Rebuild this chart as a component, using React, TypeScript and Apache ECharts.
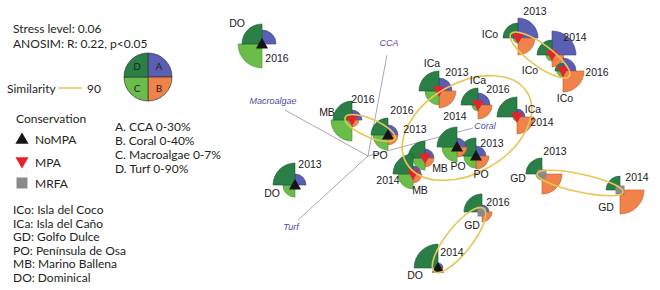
import { useEffect, useRef } from 'react';
import * as echarts from 'echarts';

// ---- data (nMDS coordinates, cover %) ----
const sites = ['DO', 'DO', 'MB', 'PO', 'ICa', 'ICa', 'ICa', 'ICo', 'ICo', 'ICo', 'MB', 'PO', 'PO', 'MB', 'GD', 'GD', 'GD', 'DO'];
const years = ['2016', '2013', '2016', '2016', '2013', '2016', '2014', '2013', '2014', '2016', '2013', '2013', '2014', '2014', '2013', '2014', '2016', '2014'];
const nmds1 = [-1.38, -1.05, -0.48, -0.12, 0.39, 0.78, 1.17, 1.18, 1.52, 1.63, 0.25, 0.76, 0.57, 0.13, 1.42, 2.2, 0.82, 0.38];
const nmds2 = [1.06, -0.35, 0.3, 0.15, 0.59, 0.45, 0.33, 1.12, 0.95, 0.79, -0.08, -0.06, 0.03, -0.24, -0.24, -0.4, -0.62, -1.18];
const cca = [16.8, 13.2, 12, 12, 15.6, 14.4, 9.6, 24, 28.8, 15.6, 10.8, 12, 10.8, 9.6, 4.8, 3.6, 8.4, 6];
const coral = [0, 0, 11, 16, 27, 22.4, 27, 27, 19, 33.6, 14.4, 20.8, 16, 14.4, 32, 38.4, 16, 8];
const macroalgae = [6.7, 3.4, 5.9, 4.2, 3.9, 1.7, 1.1, 1.4, 1.7, 1.7, 3.4, 3.4, 4.2, 4.2, 1.7, 1.1, 1.1, 1.1];
const turf = [72, 79, 68, 61, 72, 61, 72, 54, 54, 29, 61, 65, 72, 72, 58, 50, 65, 86];
const coverMax = [30, 40, 7, 90]; // A CCA, B Coral, C Macroalgae, D Turf

const conservationBySite: Record<string, string> = { DO: 'NoMPA', PO: 'NoMPA', MB: 'MPA', ICa: 'MPA', ICo: 'MPA', GD: 'MRFA' };

// vectors: origin and end points (nMDS units)
const vectorNames = ['CCA', 'Macroalgae', 'Turf', 'Coral'];
const vectorOrigin = [-0.32, -0.06];
const vectorEndX = [-0.13, -1.15, -1.02, 0.73];
const vectorEndY = [0.95, 0.4, -0.7, 0.22];

// similarity (90) ellipses: centre x, centre y, semi-axis a, semi-axis b, angle (deg)
const ellipseCx = [-0.3, 1.4, 1.8, 0.59, 0.67];
const ellipseCy = [0.22, 0.95, -0.33, -0.9, 0.22];
const ellipseA = [0.27, 0.36, 0.44, 0.4, 0.7];
const ellipseB = [0.09, 0.11, 0.09, 0.13, 0.45];
const ellipseAngle = [-23, -36, -12, 52, 30];

// ---- layout (label offsets in px: site dx, dy, year dx, dy) ----
const labelOffsets = [
  [-25, -21, 15, 14], [-23, 8, 15, -21], [-25, -8, 11, -21], [-8, 20, 14, -25],
  [-7, -28, 18, -19], [0, -25, 20, -16], [16, -8, 25, 5], [-28, -4, 17, -27],
  [-22, 15, 23, -18], [2, 27, 34, 1], [15, 10, -10, -29], [5, 18, 16, -13],
  [1, 19, -2, -31], [7, 16, -25, 6], [-24, 4, 13, -23], [-14, 17, 17, -13],
  [-10, 13, 16, -10], [-23, 7, 14, -16],
];
const vectorLabelOffsets = [[2, -12], [-12, -9], [-7, 7], [12, -2]];

const R = 25;
const fills = ['#5b5fb4', '#f0824a', '#6abd48', '#2a7f47'];
const strokes = ['#3e418a', '#c65a28', '#4a9230', '#1d5a31'];
const angles = [[-Math.PI / 2, 0], [0, Math.PI / 2], [Math.PI / 2, Math.PI], [Math.PI, Math.PI * 1.5]];
const ellipseColor = '#e9c556';
const legendFont = 'Lato, "Open Sans", sans-serif';
const plotFont = '"Liberation Sans", Arial, sans-serif';

function marker(kind: string, x: number, y: number, s: number) {
  if (kind === 'NoMPA') {
    return { type: 'polygon', shape: { points: [[x, y - s * 0.55], [x + s * 0.55, y + s * 0.4], [x - s * 0.55, y + s * 0.4]] }, style: { fill: '#151515' } };
  }
  if (kind === 'MPA') {
    return { type: 'polygon', shape: { points: [[x - s * 0.55, y - s * 0.4], [x + s * 0.55, y - s * 0.4], [x, y + s * 0.55]] }, style: { fill: '#e4232b' } };
  }
  return { type: 'rect', shape: { x: x - s / 2, y: y - s / 2, width: s, height: s }, style: { fill: '#8a8a8a' } };
}

export default function App() {
  const ref = useRef<HTMLDivElement>(null);
  useEffect(() => {
    if (!ref.current) return;
    const chart = echarts.init(ref.current, undefined, { renderer: 'svg' });

    const glyphData = sites.map((_, i) => [nmds1[i], nmds2[i], cca[i], coral[i], macroalgae[i], turf[i]]);
    const vectorData = vectorNames.map((_, i) => [vectorOrigin[0], vectorOrigin[1], vectorEndX[i], vectorEndY[i]]);
    const ellipseData = ellipseCx.map((_, i) => [ellipseCx[i], ellipseCy[i], ellipseA[i], ellipseB[i], ellipseAngle[i]]);

    const txt = (text: string, x: number, y: number, size = 12) => ({
      type: 'text', x, y, silent: true,
      style: { text, font: `${size}px ${legendFont}`, lineHeight: size, fill: '#231f20', align: 'left', verticalAlign: 'middle' },
    });

    const legendGlyph: any[] = [];
    const lcx = 148, lcy = 77, lr = 24;
    angles.forEach((a, k) => {
      legendGlyph.push({ type: 'sector', shape: { cx: lcx, cy: lcy, r: lr, r0: 0, startAngle: a[0], endAngle: a[1] }, style: { fill: fills[k], stroke: '#333', lineWidth: 0.7 } });
    });
    const letterPos = [[1, -1, 'A'], [1, 1, 'B'], [-1, 1, 'C'], [-1, -1, 'D']];
    letterPos.forEach((p: any) => {
      legendGlyph.push({ type: 'text', x: lcx + p[0] * 11, y: lcy + p[1] * 11, style: { text: p[2], font: `10px ${legendFont}`, fill: '#222', align: 'center', verticalAlign: 'middle' } });
    });

    const graphic: any[] = [
      txt('Stress level: 0.06', 13, 28),
      txt('ANOSIM: R: 0.22, p<0.05', 13, 43),
      ...legendGlyph,
      txt('Similarity', 7, 88),
      { type: 'line', shape: { x1: 58, y1: 88, x2: 82, y2: 88 }, style: { stroke: ellipseColor, lineWidth: 1.5 } },
      txt('90', 87, 88),
      txt('Conservation', 16, 118),
      marker('NoMPA', 22, 139, 12), txt('NoMPA', 35, 139),
      marker('MPA', 22, 162, 12), txt('MPA', 35, 162),
      marker('MRFA', 22, 183, 11), txt('MRFA', 35, 183),
      txt('A. CCA 0-30%', 115, 126),
      txt('B. Coral 0-40%', 115, 140),
      txt('C. Macroalgae 0-7%', 115, 154),
      txt('D. Turf 0-90%', 115, 168),
      txt('ICo: Isla del Coco', 13, 209.5),
      txt('ICa: Isla del Caño', 13, 223),
      txt('GD: Golfo Dulce', 13, 236.5),
      txt('PO: Península de Osa', 13, 250),
      txt('MB: Marino Ballena', 13, 263.5),
      txt('DO: Dominical', 13, 277),
    ];

    chart.setOption({
      animation: false,
      grid: { left: 0, right: 0, top: 0, bottom: 0 },
      xAxis: { type: 'value', min: -4, max: 2.6, show: false },
      yAxis: { type: 'value', min: -1.4, max: 1.5, show: false },
      graphic,
      series: [
        {
          type: 'custom', clip: false, silent: true, data: vectorData,
          renderItem: (params: any, api: any) => {
            const o = api.coord([api.value(0), api.value(1)]);
            const e = api.coord([api.value(2), api.value(3)]);
            const off = vectorLabelOffsets[params.dataIndex];
            return {
              type: 'group', children: [
                { type: 'line', shape: { x1: o[0], y1: o[1], x2: e[0], y2: e[1] }, style: { stroke: '#9c9cb2', lineWidth: 0.9 } },
                { type: 'text', x: e[0] + off[0], y: e[1] + off[1], style: { text: vectorNames[params.dataIndex], font: `italic 9px ${plotFont}`, fill: '#4c4c9c', align: 'center', verticalAlign: 'middle' } },
              ],
            };
          },
        },
        {
          type: 'custom', clip: false, silent: true, data: glyphData,
          renderItem: (params: any, api: any) => {
            const c = api.coord([api.value(0), api.value(1)]);
            const children: any[] = [];
            for (let k = 0; k < 4; k++) {
              const r = (R * api.value(2 + k)) / coverMax[k];
              if (r <= 0.2) continue;
              children.push({ type: 'sector', shape: { cx: c[0], cy: c[1], r, r0: 0, startAngle: angles[k][0], endAngle: angles[k][1] }, style: { fill: fills[k], stroke: strokes[k], lineWidth: 0.6 } });
            }
            const kind = conservationBySite[sites[params.dataIndex]];
            children.push(marker(kind, c[0], c[1], kind === 'MRFA' ? 9 : 11));
            return { type: 'group', children };
          },
        },
        {
          type: 'custom', clip: false, silent: true, data: ellipseData,
          renderItem: (params: any, api: any) => {
            const c = api.coord([api.value(0), api.value(1)]);
            const s = api.size([api.value(2), api.value(3)]);
            return {
              type: 'ellipse', x: c[0], y: c[1], rotation: (api.value(4) * Math.PI) / 180,
              shape: { cx: 0, cy: 0, rx: s[0], ry: s[1] },
              style: { fill: 'none', stroke: ellipseColor, lineWidth: 1.6 },
            };
          },
        },
        {
          type: 'custom', clip: false, silent: true, data: glyphData,
          renderItem: (params: any, api: any) => {
            const c = api.coord([api.value(0), api.value(1)]);
            const off = labelOffsets[params.dataIndex];
            const font = `10.5px ${plotFont}`;
            return {
              type: 'group', children: [
                { type: 'text', x: c[0] + off[0], y: c[1] + off[1], style: { text: sites[params.dataIndex], font, fill: '#1a1a1a', align: 'center', verticalAlign: 'middle' } },
                { type: 'text', x: c[0] + off[2], y: c[1] + off[3], style: { text: years[params.dataIndex], font, fill: '#1a1a1a', align: 'center', verticalAlign: 'middle' } },
              ],
            };
          },
        },
      ],
    });
    return () => chart.dispose();
  }, []);
  return <div ref={ref} style={{ position: 'fixed', left: 0, top: 0, width: 660, height: 290, background: '#fff' }} />;
}
